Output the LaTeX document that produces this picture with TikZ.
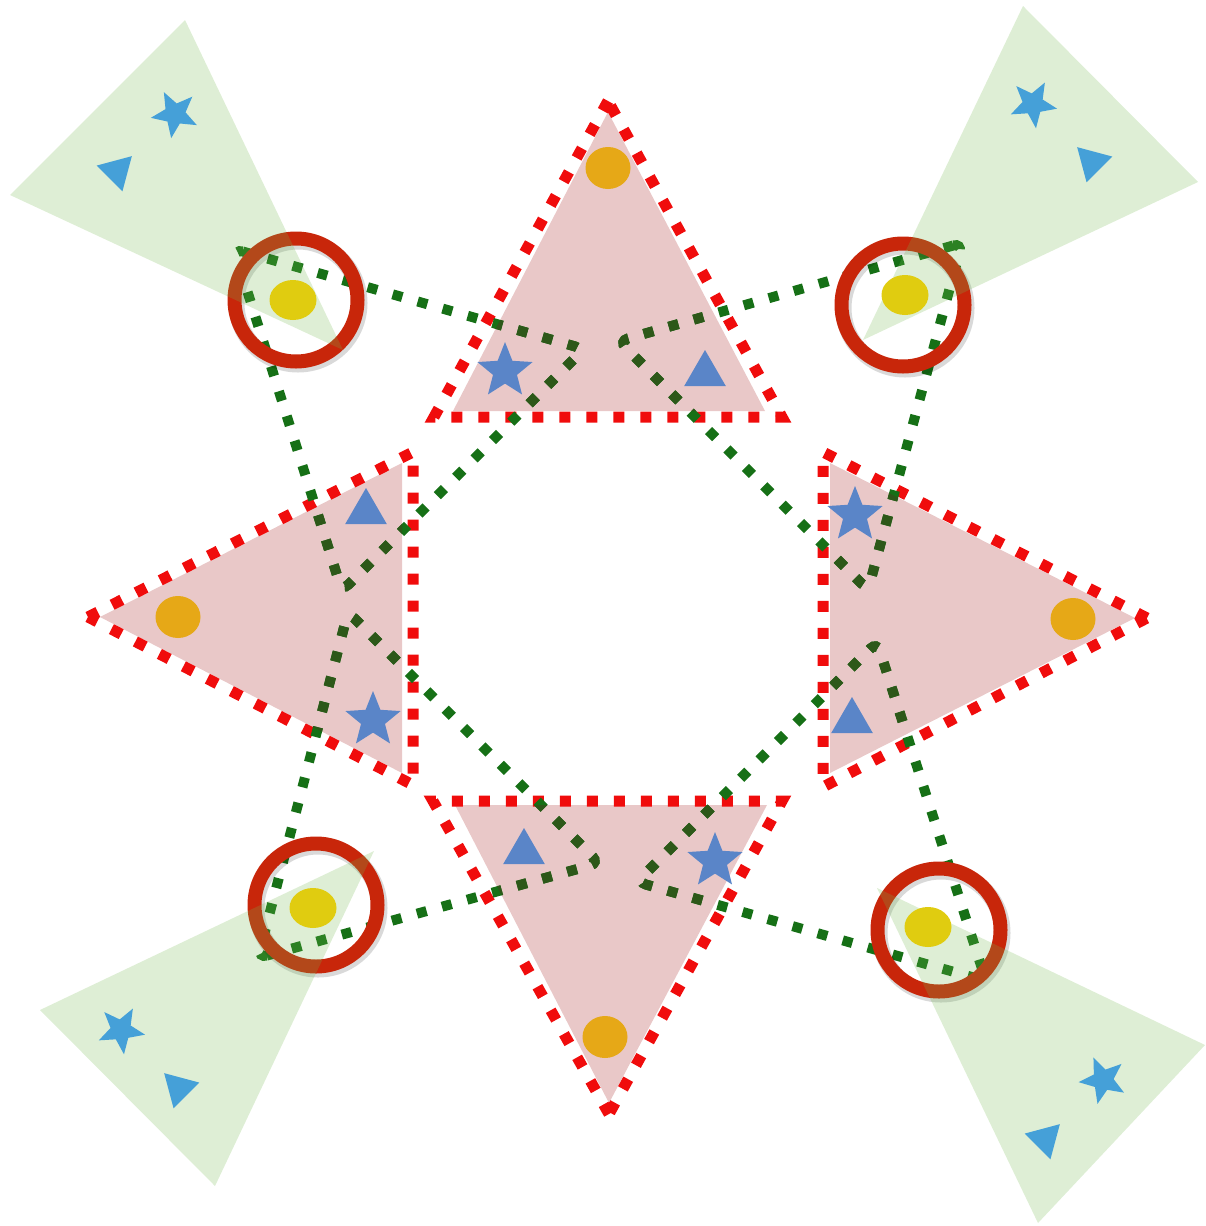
\documentclass[tikz,border=0pt]{standalone}
\usetikzlibrary{shapes.geometric}
\definecolor{pinkfill}{RGB}{233,200,200}
\definecolor{reddot}{RGB}{240,12,12}
\definecolor{loopgreen}{RGB}{22,112,22}
\definecolor{loopolive}{RGB}{45,88,25}
\definecolor{ringred}{RGB}{200,38,10}
\definecolor{leafgreen}{RGB}{115,184,79}
\definecolor{sunyellow}{RGB}{224,204,16}
\definecolor{dotorange}{RGB}{230,168,23}
\definecolor{markblue}{RGB}{90,133,200}
\definecolor{skyblue}{RGB}{69,160,216}
\newcommand\drawallloops[1]{%
  \draw[greenloop,#1] (tlA) -- (tlB) -- (tlC) -- cycle;
  \draw[greenloop,#1] (trA) -- (trB) -- (trC) -- cycle;
  \draw[greenloop,#1] (blA) -- (blB) -- (blC) -- cycle;
  \draw[greenloop,#1] (brA) -- (brB) -- (brC) -- cycle;}
\begin{document}
\begin{tikzpicture}[x=1pt,y=-1pt,
  pinkarea/.style={fill=pinkfill},
  redborder/.style={draw=reddot,line width=11pt,dash pattern=on 11pt off 16pt},
  greenloop/.style={draw=loopgreen,line width=10pt,dash pattern=on 10pt off 16pt,rounded corners=9pt},
  ringnode/.style={circle,draw=ringred,line width=14pt,minimum size=123pt,inner sep=0pt,outer sep=0pt},
  ringshadow/.style={draw=black,opacity=0.15,line width=16pt},
  leaf/.style={fill=leafgreen,fill opacity=0.24},
  sun/.style={ellipse,fill=sunyellow,minimum width=47pt,minimum height=40pt,inner sep=0pt},
  bead/.style={ellipse,fill=dotorange,minimum width=45pt,minimum height=42pt,inner sep=0pt},
  bigstar/.style={star,star points=5,star point ratio=2.3,fill=markblue,minimum size=58pt,inner sep=0pt},
  bigtri/.style={regular polygon,regular polygon sides=3,fill=markblue,minimum size=48pt,inner sep=0pt},
  smallstar/.style={star,star points=5,star point ratio=2.3,fill=skyblue,minimum size=49pt,inner sep=0pt},
  smalltri/.style={regular polygon,regular polygon sides=3,fill=skyblue,minimum size=42pt,inner sep=0pt},
]
\path[use as bounding box] (0,0) rectangle (1205,1226);

% loop corners
\coordinate (tlA) at (234,249);
\coordinate (tlB) at (584,349);
\coordinate (tlC) at (342,591);
\coordinate (trA) at (962,243);
\coordinate (trB) at (619,341);
\coordinate (trC) at (868,590);
\coordinate (blA) at (258,958);
\coordinate (blB) at (599,863);
\coordinate (blC) at (348,612);
\coordinate (brA) at (986,981);
\coordinate (brB) at (637,882);
\coordinate (brC) at (877,642);
% ring centres
\coordinate (cTL) at (296,300);
\coordinate (cTR) at (903,305);
\coordinate (cBL) at (316,905);
\coordinate (cBR) at (939,930);

% pink triangles
\fill[pinkarea] (608,112) -- (453,411) -- (765,411) -- cycle;
\fill[pinkarea] (100,617) -- (402,463) -- (402,773) -- cycle;
\fill[pinkarea] (1135,618) -- (830,463) -- (830,773) -- cycle;
\fill[pinkarea] (609,1103) -- (455,805) -- (767,805) -- cycle;
\draw[redborder] (608,101) -- (434,417) -- (782,417) -- cycle;
\draw[redborder] (88,617) -- (413,452) -- (413,785) -- cycle;
\draw[redborder] (1147,618) -- (823,452) -- (823,787) -- cycle;
\draw[redborder] (609,1114) -- (433,801) -- (782,801) -- cycle;

% green dotted loops
\drawallloops{}
% darker where they cross the pink areas
\begin{scope}
  \clip (608,112) -- (453,411) -- (765,411) -- cycle;
  \drawallloops{draw=loopolive}
\end{scope}
\begin{scope}
  \clip (100,617) -- (402,463) -- (402,773) -- cycle;
  \drawallloops{draw=loopolive}
\end{scope}
\begin{scope}
  \clip (1135,618) -- (830,463) -- (830,773) -- cycle;
  \drawallloops{draw=loopolive}
\end{scope}
\begin{scope}
  \clip (609,1103) -- (455,805) -- (767,805) -- cycle;
  \drawallloops{draw=loopolive}
\end{scope}

% rings
\foreach \c in {cTL,cTR,cBL,cBR}{
  \draw[ringshadow] ([shift={(2,3)}]\c) circle (61.5);
}
\node[ringnode] (ringTL) at (cTL) {};
\node[ringnode] (ringTR) at (cTR) {};
\node[ringnode] (ringBL) at (cBL) {};
\node[ringnode] (ringBR) at (cBR) {};

% green leaves
\fill[leaf] (10,195) -- (185,20) -- (343,350) -- cycle;
\fill[leaf] (1023,6) -- (1198,182) -- (863,340) -- cycle;
\fill[leaf] (40,1010) -- (215,1186) -- (374,851) -- cycle;
\fill[leaf] (877,888) -- (1205,1045) -- (1038,1223) -- cycle;

% yellow suns
\node[sun] (sunTL) at (293,300) {};
\node[sun] (sunTR) at (905,295) {};
\node[sun] (sunBL) at (313,908) {};
\node[sun] (sunBR) at (928,927) {};

% leaf marks
\node[smallstar,rotate=27] (lstarTL) at (175,114) {};
\node[smalltri,rotate=-45] (ltriTL) at (117,171) {};
\node[smallstar,rotate=-29] (lstarTR) at (1033,104) {};
\node[smalltri,rotate=45] (ltriTR) at (1092,162) {};
\node[smallstar,rotate=-29] (lstarBL) at (121,1030) {};
\node[smalltri,rotate=45] (ltriBL) at (179,1088) {};
\node[smallstar,rotate=23] (lstarBR) at (1103,1080) {};
\node[smalltri,rotate=-45] (ltriBR) at (1045,1139) {};

% pink triangle marks
\node[bead] (beadT) at (608,168) {};
\node[bead] (beadL) at (178,617) {};
\node[bead] (beadR) at (1073,619) {};
\node[bead] (beadB) at (605,1037) {};
\node[bigstar] (starT) at (505,371) {};
\node[bigtri] (triT) at (705,374) {};
\node[bigtri] (triL) at (366,512) {};
\node[bigstar] (starL) at (373,720) {};
\node[bigstar] (starR) at (855,515) {};
\node[bigtri] (triR) at (852,721) {};
\node[bigtri] (triB) at (524,852) {};
\node[bigstar] (starB) at (715,861) {};
\end{tikzpicture}
\end{document}
